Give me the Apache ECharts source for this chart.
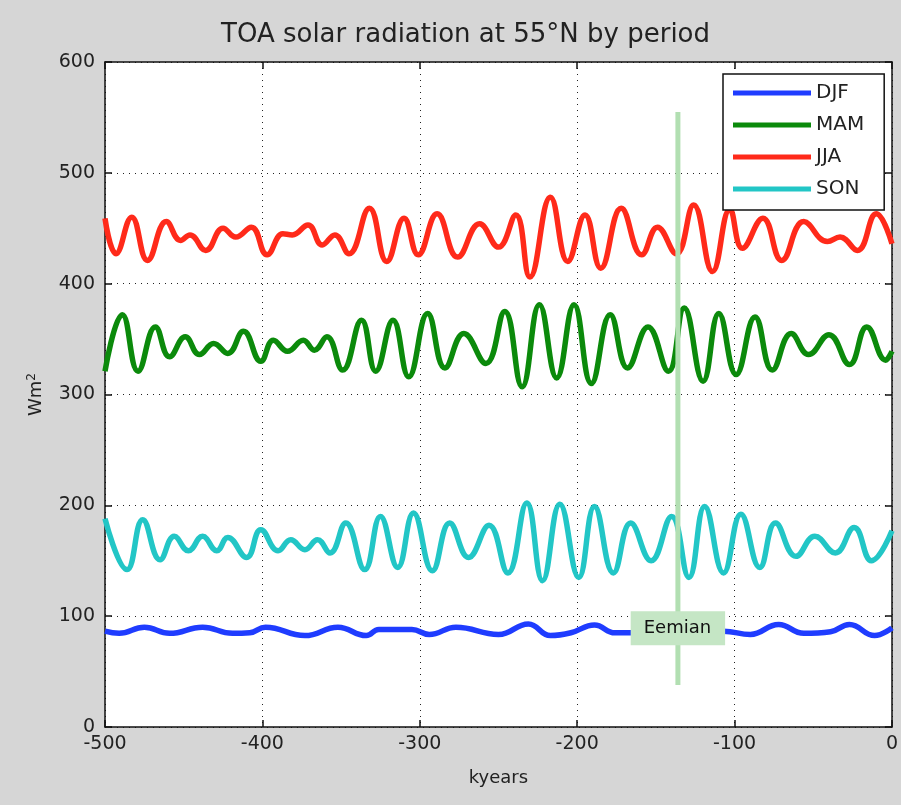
<!DOCTYPE html>
<html>
<head>
<meta charset="utf-8">
<script src="https://cdn.jsdelivr.net/npm/echarts@6/dist/echarts.min.js"></script>
<style>
html,body{margin:0;padding:0;background:#d6d6d6;}
#chart{width:901px;height:805px;}
</style>
</head>
<body>
<div id="chart"></div>
<script>
// ---- data ----
const xTicks = [-500, -400, -300, -200, -100, 0];
const yTicks = [0, 100, 200, 300, 400, 500, 600];

const djfYears = [-500, -491, -475, -459, -438, -419, -408, -398, -373, -352, -334, -326, -305, -294, -277, -250, -231, -217, -204, -189, -176, -166, -150, -130, -107, -90, -72, -56, -39, -27, -11, 0];
const djfValues = [86.5, 84.5, 90, 84.5, 90, 84.5, 85, 90, 82.5, 90, 82.5, 88, 88, 83.5, 90, 83.5, 93, 82.5, 85, 92, 85, 85, 88, 86, 86.5, 83.5, 92.5, 84.5, 86, 92.5, 82.5, 89.5];

const mamYears = [-500, -489, -479, -468, -459, -449, -440, -431, -422, -412, -401, -393, -384, -374, -367, -359, -349, -337, -328, -317, -307, -295, -284, -272, -258, -246, -235, -224, -213, -202, -191, -179, -168, -155, -142, -132, -120, -110, -99, -87, -76, -64, -53, -40, -27, -16, -4, 0];
const mamValues = [321, 372, 321, 361, 334, 352, 336, 346, 337, 357, 330, 349, 339, 349, 340, 352, 322, 367, 321, 367, 316, 373, 324, 355, 328, 375, 307, 381, 315, 381, 310, 372, 324, 361, 321, 378, 312, 373, 318, 370, 322, 355, 336, 354, 327, 361, 331, 339];

const jjaYears = [-500, -493, -483, -473, -461, -452, -446, -436, -425, -417, -407, -397, -387, -381, -371, -362, -354, -345, -332, -321, -310, -301, -289, -276, -262, -250, -239, -230, -217, -206, -195, -185, -172, -159, -149, -137, -126, -114, -103, -95, -82, -70, -56, -41, -33, -22, -10, 0];
const jjaValues = [459, 427, 460, 421, 456, 439, 444, 430, 450, 442, 451, 426, 445, 444, 453, 435, 444, 427, 468, 420, 459, 426, 463, 424, 454, 433, 462, 406, 478, 420, 462, 414, 468, 426, 451, 427, 471, 411, 467, 432, 459, 421, 456, 438, 442, 430, 463, 436];

const sonYears = [-500, -486, -476, -465, -456, -447, -438, -429, -422, -410, -401, -390, -382, -373, -365, -357, -347, -335, -325, -314, -304, -292, -281, -269, -256, -244, -232, -222, -211, -199, -189, -177, -166, -153, -140, -129, -119, -107, -96, -84, -74, -61, -49, -36, -24, -13, 0];
const sonValues = [188, 142, 187, 151, 172, 159, 172, 159, 171, 153, 178, 159, 169, 160, 169, 157, 184, 142, 190, 144, 193, 141, 184, 153, 182, 139, 202, 132, 201, 135, 199, 139, 184, 150, 190, 135, 199, 139, 192, 144, 184, 154, 172, 157, 180, 150, 177];

const eemianYear = -136;
const eemianRange = [38, 555];
const eemianLabelValue = 89;
const eemianLabel = 'Eemian';

const seriesNames = ['DJF', 'MAM', 'JJA', 'SON'];
const seriesColors = ['#1f3cff', '#0b8a0b', '#ff2a1a', '#22c6c6'];
const titleText = 'TOA solar radiation at 55°N by period';

// ---- build ----
const pairs = (xs, ys) => xs.map((x, i) => [x, ys[i]]);
const allData = [pairs(djfYears, djfValues), pairs(mamYears, mamValues), pairs(jjaYears, jjaValues), pairs(sonYears, sonValues)];

const font = '"DejaVu Sans", sans-serif';
const textColor = '#222';
const gridLine = { show: true, lineStyle: { color: '#222', type: [1, 5], width: 1 } };
const axisLine = { show: true, onZero: false, lineStyle: { color: '#111', width: 1.5 } };
const tick = { show: true, inside: true, length: 7, lineStyle: { color: '#111', width: 1.5 } };

const chart = echarts.init(document.getElementById('chart'));
const lineSeries = seriesNames.map((n, i) => ({
  name: n,
  type: 'line',
  data: allData[i],
  smooth: 0.45,
  showSymbol: false,
  symbol: 'none',
  lineStyle: { color: seriesColors[i], width: 5.5 },
  itemStyle: { color: seriesColors[i] },
  z: 3,
  animation: false
}));

lineSeries.push({
  name: 'eemianLine',
  type: 'line',
  data: [[eemianYear, eemianRange[0]], [eemianYear, eemianRange[1]]],
  symbol: 'none',
  lineStyle: { color: '#b2dfb2', width: 5 },
  z: 4,
  silent: true,
  animation: false
});

const option = {
  backgroundColor: '#d6d6d6',
  animation: false,
  legend: {
    data: seriesNames,
    orient: 'vertical',
    left: 723,
    top: 74,
    backgroundColor: '#fff',
    borderColor: '#111',
    borderWidth: 1.5,
    borderRadius: 0,
    padding: [9, 20, 11, 10],
    itemWidth: 78,
    itemHeight: 5,
    itemGap: 12,
    icon: 'rect',
    textStyle: { fontFamily: font, fontSize: 20, color: textColor }
  },
  grid: { left: 105, right: 8, top: 62, bottom: 78, containLabel: false },
  xAxis: [{
    type: 'value', min: xTicks[0], max: xTicks[xTicks.length - 1], interval: 100,
    name: 'kyears', nameLocation: 'middle', nameGap: 42,
    nameTextStyle: { fontFamily: font, fontSize: 18, color: textColor },
    axisLine, axisTick: tick, splitLine: gridLine,
    axisLabel: { fontFamily: font, fontSize: 19, color: textColor, margin: 8 }
  }, {
    type: 'value', position: 'top', min: xTicks[0], max: xTicks[xTicks.length - 1], interval: 100,
    axisLine, axisTick: tick, splitLine: { show: false }, axisLabel: { show: false }
  }],
  yAxis: [{
    type: 'value', min: yTicks[0], max: yTicks[yTicks.length - 1], interval: 100,
    name: '{a|Wm}{b|2}', nameLocation: 'middle', nameGap: 58,
    nameTextStyle: {
      fontFamily: font, fontSize: 18, color: textColor,
      rich: { a: { fontFamily: font, fontSize: 18, color: textColor }, b: { fontFamily: font, fontSize: 12, color: textColor, padding: [0, 0, 9, 0] } }
    },
    axisLine, axisTick: tick, splitLine: gridLine,
    axisLabel: { fontFamily: font, fontSize: 19, color: textColor, margin: 10 }
  }, {
    type: 'value', position: 'right', min: yTicks[0], max: yTicks[yTicks.length - 1], interval: 100,
    axisLine, axisTick: tick, splitLine: { show: false }, axisLabel: { show: false }
  }],
  series: lineSeries
};
chart.setOption(option);
// white plot area + title + Eemian label (positioned through the axes' scales)
const rect = chart.getModel().getComponent('grid').coordinateSystem.getRect();
const labelPos = chart.convertToPixel({ gridIndex: 0 }, [eemianYear, eemianLabelValue]);
chart.setOption({ graphic: [{
  type: 'text', left: 221, top: 22,
  style: { text: titleText, font: '26px ' + font, fill: textColor }
}, {
  type: 'rect', z: -1, shape: { x: rect.x, y: rect.y, width: rect.width, height: rect.height }, style: { fill: '#fff' }, silent: true
}, {
  type: 'text', z: 100, x: labelPos[0], y: labelPos[1], silent: true,
  style: {
    text: eemianLabel, font: '18px ' + font, fill: '#111',
    align: 'center', verticalAlign: 'middle',
    backgroundColor: '#c5e6c5', padding: [8, 14, 8, 13]
  }
}] });
</script>
</body>
</html>
